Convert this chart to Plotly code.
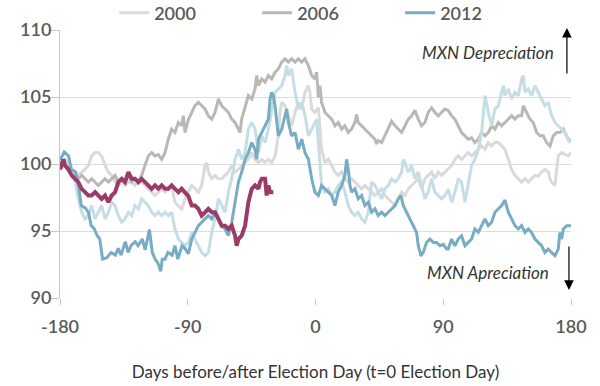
import plotly.graph_objects as go

# ---- data (index level, days relative to Election Day) ----
days_2000 = [-180,-176.5,-171.8,-169.4,-167.1,-164.7,-162.4,-160,-157.7,-155.3,-153,-150.6,-148.3,-145.9,-143.6,-141.2,-138.9,-136.5,-134.2,-131.8,-129.5,-127.2,-124.8,-122.5,-120.1,-117.8,-115.4,-113.1,-110.7,-108.4,-106,-103.7,-101.3,-99,-96.6,-94.3,-91.9,-89.6,
             -87.2,-84.9,-82.5,-80.2,-77.8,-76.7,-75.5,-73.1,-70.8,-68.4,-66.1,-63.7,-61.4,-59,-56.7,-54.3,-52,-49.6,-47.3,-44.9,-42.6,-40.2,-37.9,-35.5,-33.2,-30.9,-28.5,-26.2,-25,-23.8,-21.5,-19.1,-16.8,-14.4,-12.1,-9.7,-7.4,-5,-3.9,-2.7,-0.4,
             2,4.3,6.7,9,11.4,13.7,16,18.4,20.7,23.1,25.4,27.8,30.1,32.5,34.8,37.2,39.5,41.9,44.2,46.6,48.9,51.3,53.6,56,58.3,60.7,63,65.4,67.7,70,72.4,74.7,77.1,79.4,81.8,84.1,86.5,88.8,91.2,93.5,
             96,98.2,100.6,103,105.3,107.6,110,112.3,114.7,117,119.4,121.7,124.1,126.4,128.8,131.1,133.5,135.8,138.2,140.5,142.9,145.2,147.6,149.9,152.2,154.6,156.9,159.3,161.6,164,165.2,166.3,168.7,171,173.4,175.7,178,180]
vals_2000 = [100.1,100.35,99.6,99.4,99.15,99.4,99.6,99.9,100.6,100.85,100.85,100.6,99.9,99.4,99.15,98.65,98.4,98.65,98.4,98.65,98.65,98.4,98.65,98.65,98.4,98.15,97.9,97.65,97.9,98.15,97.9,98.15,98.4,97.15,96.9,96.65,97.4,97.9,
             98.4,98.15,97.9,98.4,99.9,100.1,99.4,98.9,99.15,98.9,98.9,99.15,99.4,99.9,99.4,99.6,99.9,100.1,100.35,100.85,100.35,100.1,100.35,100.1,100.35,100.1,100.6,102.1,103.85,104.6,104.35,103.6,102.85,103.85,104.6,104.1,105.35,105.85,105.35,104.1,103.85,
             104.2,101.1,100.1,100.35,99.9,99.4,99.15,99.4,98.9,98.65,98.9,98.65,98.4,98.15,98.4,98.15,97.9,97.65,97.9,98.15,97.65,97.4,97.15,96.9,97.4,97.9,97.65,98.15,98.4,98.65,98.9,98.15,98.9,99.15,99.4,98.9,99.4,99.15,99.4,99.6,
             99.9,100.35,100.6,100.35,100.6,100.85,100.6,100.85,101.1,101.35,101.1,101.6,101.35,101.6,101.6,101.35,101.1,100.35,99.6,99.15,98.9,98.65,98.9,98.65,98.9,99.15,99.1,99.4,99.6,99.4,98.9,98.65,98.4,100.6,100.85,100.7,100.6,100.85]

days_2006 = [-180,-176.5,-171.8,-169.4,-167.1,-164.7,-162.4,-160,-157.7,-155.3,-153,-150.6,-148.3,-145.9,-143.6,-141.2,-138.9,-136.5,-134.2,-131.8,-129.5,-127.2,-124.8,-122.5,-120.1,-117.8,-115.4,-113.1,-110.7,-108.4,-106,-103.7,-101.3,-99,-96.6,-94.3,-93.1,-91.9,-89.6,
             -87.2,-84.9,-82.5,-80.2,-77.8,-75.5,-73.1,-70.8,-68.4,-66.1,-63.7,-61.4,-59,-56.7,-54.3,-53.2,-52,-49.6,-47.3,-44.9,-42.6,-41.4,-40.2,-37.9,-35.5,-33.2,-30.9,-28.5,-26.2,-23.8,-21.5,-19.1,-16.8,-14.4,-12.1,-9.7,-7.4,-5,-2.7,-0.4,
             0.8,2,3.1,4.3,6.7,9,11.4,13.7,16,18.4,20.7,23.1,25.4,27.8,29,30.1,32.5,34.8,37.2,39.5,41.9,43,44.2,46.6,48.9,51.3,53.6,56,58.3,60.7,63,65.4,67.7,70,72.4,74.7,77.1,79.4,81.8,84.1,86.5,88.8,91.2,93.5,
             95.9,98.2,100.6,102.9,105.3,107.6,110,112.3,114.7,117,119.4,121.7,124.1,126.4,128.8,131.1,133.5,135.8,138.2,140.5,142.9,145.2,146.4,148.7,151.1,153.4,155.8,158.1,160.5,162.8,165.2,167.5,169.9,172.2,174.6,175.7,178.1,180]
vals_2006 = [100.1,99.9,99.4,99.15,98.9,99.15,98.9,98.65,98.9,98.65,98.4,98.65,98.9,98.65,98.9,99.15,98.65,98.9,98.65,99.15,98.65,98.9,98.65,99.15,99.9,100.6,100.85,100.6,100.7,100.35,100.85,101.85,102.6,102.35,103.1,102.85,103.6,102.35,103.3,
             103.85,104.35,104.6,104.35,104.1,103.6,103.35,103.85,104.85,104.35,104.1,103.85,103.35,103.1,102.6,102.35,103.35,104.35,105.1,104.85,105.6,106.6,105.85,106.35,106.1,106.6,106.35,106.85,107.1,107.6,107.85,107.6,107.85,107.6,107.85,107.6,107.85,107.35,106.6,106.35,
             106.85,105.0,105.85,104.6,103.85,103.6,103.35,102.85,103.1,102.6,102.85,102.35,102.6,103.1,103.7,103.1,102.85,102.6,102.35,102.1,101.85,101.5,101.75,101.6,102.1,102.6,103.2,102.85,102.6,102.35,102.85,103.35,103.6,104.0,103.35,102.85,103.1,103.85,104.2,103.85,103.6,103.85,104.1,104.0,
             103.6,103.35,102.85,102.35,102.1,101.85,101.95,101.6,101.85,102.35,102.1,102.35,102.85,102.6,103.1,102.85,103.1,103.35,103.6,103.35,103.6,103.6,104.35,103.85,103.35,103.1,102.35,102.1,102.1,101.6,101.35,102.1,102.35,102.35,102.6,102.35,101.85,101.7]

days_other = [-180,-176.5,-171.8,-169.4,-167.1,-164.7,-162.4,-160,-157.7,-155.3,-153,-150.6,-148.3,-145.9,-143.6,-141.2,-138.9,-136.5,-134.2,-131.8,-129.5,-127.2,-124.8,-122.5,-120.1,-117.8,-115.4,-113.1,-110.7,-108.4,-106,-103.7,-101.3,-99,-96.6,-94.3,-91.9,-89.6,
              -87.2,-84.9,-82.5,-80.2,-77.8,-75.5,-73.1,-70.8,-68.4,-66.1,-63.7,-61.4,-59,-56.7,-54.3,-52,-49.6,-47.3,-44.9,-42.6,-40.2,-37.9,-35.5,-33.2,-30.9,-28.5,-26.2,-23.8,-21.5,-20.3,-19.1,-16.8,-14.4,-12.1,-9.7,-7.4,-5,-2.7,-0.4,
              0.8,2,3.1,4.3,6.7,9,11.4,13.7,16,18.4,20.7,23.1,25.4,27.8,30.1,32.5,34.8,37.2,39.5,41.9,44.2,46.6,48.9,51.3,53.6,56,58.3,60.7,61.8,63,65.4,67.7,70,72.4,74.7,77.1,79.4,81.8,84.1,86.5,88.8,91.2,93.5,
              95.9,98.2,100.6,102.9,105.3,107.6,110,112.3,114.7,117,118.2,119.4,121.7,124.1,126.4,128.8,131.1,132.3,133.5,135.8,138.2,140.5,142.9,145.2,146.4,147.6,149.9,152.2,154.6,156.9,159.3,161.6,164,166.3,168.7,171,173.4,175.7,178.1,180]
vals_other = [99.6,99.9,99.4,98.65,97.4,96.4,95.9,96.15,96.9,95.9,96.4,96.9,95.9,96.4,97.15,96.9,96.15,95.65,95.9,96.4,96.15,96.9,96.65,97.4,97.15,96.9,96.4,96.15,96.4,96.15,96.4,96.15,96.4,95.15,94.4,94.15,93.9,94.15,
              94.9,94.4,93.9,93.4,93.15,93.4,94.9,95.9,97.4,96.9,96.4,97.9,98.9,100.35,101.1,100.35,100.85,102.6,103.1,102.6,100.85,102.1,101.6,102.6,104.1,105.35,105.6,105.85,106.6,107.35,106.6,107.1,105.35,104.1,104.6,103.6,102.1,102.6,103.0,
              103.35,101.6,99.9,98.4,97.9,98.15,97.65,97.9,98.4,98.65,97.9,96.9,96.4,96.15,96.4,95.9,95.65,96.4,98.65,98.4,97.9,97.4,98.15,98.4,98.9,98.65,98.9,99.4,100.35,100.1,99.4,99.9,98.9,99.4,98.4,97.4,97.9,98.9,97.9,97.65,97.4,97.65,98.1,
              97.15,97.9,98.9,98.65,97.15,98.65,99.9,100.35,101.1,102.35,104.1,105.1,103.85,102.85,104.1,104.35,105.35,105.85,105.1,105.6,104.85,105.35,105.1,106.35,106.6,105.35,105.6,105.1,105.85,105.35,104.85,104.35,104.6,103.6,103.1,102.85,102.6,102.35,101.75,101.6]

days_2012 = [-180,-177,-174,-172,-169,-167,-165,-162,-160,-158,-156,-154,-152,-150,-147,-144,-141,-139,-137,-134,-132,-130,-127,-125,-122,-120,-117,-115,-113,-111,-109,-108,-106,-104,-101,-99,-97,-94,-92,
             -89.6,-87.2,-84.9,-82.5,-80.2,-77.8,-75.5,-73.1,-70.8,-68.4,-66.1,-63.7,-61.4,-59,-56.7,-54.3,-52,-49.6,-47.3,-44.9,-42.6,-41.4,-40.2,-37.9,-35.5,-33.2,-32,-30.9,-29.7,-28.5,-26.2,-23.8,-21.5,-20.3,-19.1,-16.8,-14.4,-12.1,-9.7,-7.4,-5,-3.9,-2.7,-0.4,
             2,4.3,6.7,9,11.4,13.7,16,18.4,20.7,21.9,23.1,24.3,25.4,27.8,30.1,32.5,34.8,37.2,39.5,41.9,44.2,46.6,48.9,51.3,53.6,56,58.3,60.2,61.8,64.2,66.5,68.9,71.2,72.4,74.3,75.9,78.3,80.6,83,85.3,87.7,90,92.4,
             93.5,95.9,98.2,100.6,102.9,105.3,107.6,110,112.3,114.7,117,119.4,121.7,124.1,126.4,128.8,131.1,133.5,135.8,138.2,140.5,142.9,145.2,147.6,149.9,152.2,154.6,156.9,159.3,161.6,164,166.3,168.7,171,172.2,173.4,174.6,177,180]
vals_2012 = [100.3,100.9,100.6,99.6,99.4,98.4,96.9,96.7,96.4,95.4,95.2,94.7,94.4,92.9,93.0,93.4,93.2,93.7,93.2,94.2,93.4,93.9,94.2,93.9,94.4,93.6,95.1,93.4,92.9,92.6,92.0,92.9,92.9,93.4,93.2,93.9,92.9,93.9,93.7,
             93.3,94.4,94.9,95.4,95.65,95.9,96.15,95.9,96.4,95.9,95.4,95.15,94.65,95.65,97.15,98.65,99.4,100.35,100.85,101.6,101.1,100.35,101.85,102.35,102.85,103.35,104.85,105.35,105.1,104.35,102.1,102.6,103.6,104.1,103.1,102.1,102.35,101.1,101.85,100.85,100.35,99.6,98.9,97.9,
             97.65,98.4,98.15,97.9,97.65,96.9,97.9,98.4,99.15,100.35,99.6,98.4,97.9,98.15,97.4,97.65,96.9,97.15,96.4,96.65,96.15,96.4,96.15,96.4,96.65,96.9,97.4,97.65,96.9,96.4,95.9,95.4,94.9,93.9,93.15,93.4,94.15,94.4,94.15,94.15,93.9,94.0,93.65,
             93.65,94.4,93.9,94.4,94.65,93.9,94.15,94.4,95.15,94.9,95.4,95.9,95.4,95.65,96.4,96.65,96.9,97.3,96.4,95.9,95.4,95.15,95.4,94.9,95.15,94.9,94.4,94.15,93.9,93.4,93.65,93.4,93.15,93.65,94.9,94.4,95.15,95.4,95.4]

days_2018 = [-180,-177.6,-176.5,-174.1,-171.8,-169.4,-167.1,-164.7,-162.4,-160,-157.7,-155.3,-153,-150.6,-148.3,-145.9,-143.6,-141.2,-138.9,-136.5,-134.2,-131.8,-129.5,-127.2,-124.8,-122.5,-120.1,-117.8,-115.4,-113.1,-110.7,-108.4,-106,-103.7,-101.3,-99,-96.6,-94.3,-91.9,-89.6,
             -87.2,-84.9,-82.5,-80.2,-77.8,-75.5,-73.1,-70.8,-68.4,-66.1,-63.7,-61.4,-59,-56.7,-55.5,-54.3,-52,-49.6,-47.3,-44.9,-42.6,-40.2,-39.1,-37.9,-35.5,-34.4,-33.2,-32,-29.7]
vals_2018 = [99.6,100.35,99.9,99.6,99.15,98.9,98.65,98.15,97.9,97.65,97.65,97.9,97.65,97.4,97.65,97.15,97.65,97.9,98.65,98.9,98.65,99.4,98.9,98.9,98.65,98.9,98.65,98.4,98.15,98.4,98.15,98.4,98.15,98.15,98.4,98.15,97.9,98.15,97.9,97.6,
             96.9,96.9,96.65,96.15,96.4,96.65,96.4,96.4,95.9,95.4,95.4,95.15,95.4,94.65,93.9,94.4,94.65,95.4,97.15,98.15,98.4,98.15,98.65,98.9,98.9,97.65,98.4,97.9,97.9]

x_ticks = [-180, -90, 0, 90, 180]
y_ticks = [90, 95, 100, 105, 110]

FONT = "Lato"
fig = go.Figure()

fig.add_trace(go.Scatter(x=days_2000, y=vals_2000, mode="lines", name="2000",
                         line=dict(color="#dadada", width=3)))
fig.add_trace(go.Scatter(x=days_2006, y=vals_2006, mode="lines", name="2006",
                         line=dict(color="#b8b8b4", width=3)))
fig.add_trace(go.Scatter(x=days_other, y=vals_other, mode="lines", name="other",
                         showlegend=False, line=dict(color="#c6dde6", width=3)))
fig.add_trace(go.Scatter(x=days_2012, y=vals_2012, mode="lines", name="2012",
                         line=dict(color="#76acc4", width=3)))
fig.add_trace(go.Scatter(x=days_2018, y=vals_2018, mode="lines", name="2018",
                         showlegend=False, line=dict(color="#9a3b68", width=4)))

fig.update_layout(
    width=600, height=386,
    margin=dict(l=60, r=29, t=30, b=88, autoexpand=False),
    plot_bgcolor="white", paper_bgcolor="white",
    font=dict(family=FONT, color="#555555"),
    legend=dict(orientation="h", x=0.106, xanchor="left", y=1.063, yanchor="middle",
                font=dict(family=FONT, size=18, color="#595959", weight=600),
                entrywidth=98, entrywidthmode="pixels", bgcolor="rgba(0,0,0,0)"),
    xaxis=dict(range=[-180, 180], tickvals=x_ticks, ticktext=[str(t) for t in x_ticks],
               showgrid=False, zeroline=False, showline=False,
               ticks="outside", ticklen=6, tickcolor="#c8c8c8", tickwidth=1,
               ticklabelstandoff=6,
               tickfont=dict(family=FONT, size=18, color="#595959", weight=600),
               title=dict(text="Days before/after Election Day (t=0 Election Day)",
                          font=dict(family=FONT, size=17, color="#333333"), standoff=30)),
    yaxis=dict(range=[90, 110], tickvals=y_ticks, showgrid=True, gridcolor="#dcdcdc", gridwidth=1,
               zeroline=False, showline=True, linecolor="#c8c8c8", linewidth=1,
               ticks="outside", ticklen=8, tickcolor="#c8c8c8", ticklabelstandoff=-4,
               tickfont=dict(family=FONT, size=18, color="#595959", weight=600)),
    showlegend=True,
)

fig.add_annotation(x=169.5, y=108.3, xref="x", yref="y", text="MXN Depreciation",
                   showarrow=False, xanchor="right", yanchor="middle",
                   font=dict(family=FONT, size=17, color="#333333", style="italic"))
fig.add_annotation(x=166, y=91.9, xref="x", yref="y", text="MXN Apreciation",
                   showarrow=False, xanchor="right", yanchor="middle",
                   font=dict(family=FONT, size=17, color="#333333", style="italic"))
fig.add_annotation(x=0.992, y=1.0075, xref="paper", yref="paper", text="", showarrow=True,
                   ax=0, ay=47, arrowhead=2, arrowsize=1.6, arrowwidth=1.2, arrowcolor="#000000")
fig.add_annotation(x=0.996, y=0.03, xref="paper", yref="paper", text="", showarrow=True,
                   ax=0, ay=-45, arrowhead=2, arrowsize=1.6, arrowwidth=1.2, arrowcolor="#000000")

# remove the default 8px page margin so the figure fills the window exactly
fig.write_html("out.html", config={"displayModeBar": False},
               post_script="document.body.style.margin='0px';")
